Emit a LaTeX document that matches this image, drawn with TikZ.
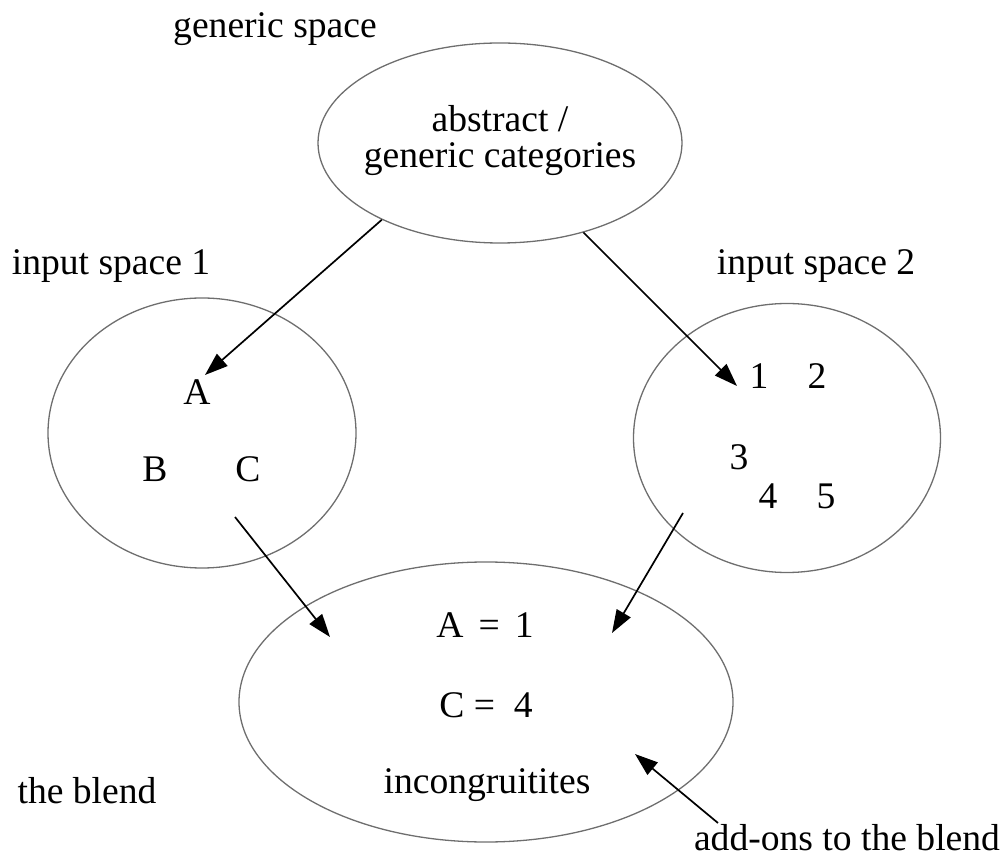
\documentclass[tikz,border=0pt]{standalone}
\usepackage{fontspec}
\setmainfont{Liberation Serif}
\usetikzlibrary{arrows.meta, shapes.geometric}
\definecolor{sgray}{RGB}{110, 110, 110}

\begin{document}
\begin{tikzpicture}[
      x=0.5pt, y=-0.5pt,
      space/.style={draw=sgray, line width=0.65pt, ellipse, inner sep=0pt},
      txt/.style={anchor=base, inner sep=0pt, font=\fontsize{18.8}{22}\selectfont},
      arr/.style={-{Triangle[length=11.5pt, width=8pt]}, line width=0.85pt},
    ]
      \useasboundingbox (0,0) rectangle (1006,860);
      % the four spaces
      \node[space, minimum width=182pt, minimum height=100pt] (gen)   at (500,143) {};
      \node[space, minimum width=154pt, minimum height=135pt] (inone) at (202,433) {};
      \node[space, minimum width=153.5pt, minimum height=134.5pt] (intwo) at (787,438) {};
      \node[space, minimum width=247pt, minimum height=140pt] (blend) at (486,702) {};
      % labels
      \node[txt] (genlbl)   at (275,38)  {generic space};
      \node[txt] (onelbl)   at (111,275) {input space 1};
      \node[txt] (twolbl)   at (816,275) {input space 2};
      \node[txt] (blendlbl) at (87,803)  {the blend};
      \node[txt] (addons)   at (847,850) {add-ons to the blend};
      % contents
      \node[txt] (absa) at (500,132) {abstract /};
      \node[txt] (absb) at (500,168) {generic categories};
      \node[txt] (ea) at (197,405) {A};
      \node[txt] (eb) at (155,482) {B};
      \node[txt] (ec) at (248,482) {C};
      \node[txt] (n1) at (759,389) {1};
      \node[txt] (n2) at (817,389) {2};
      \node[txt] (n3) at (739,470) {3};
      \node[txt] (n4) at (768,509) {4};
      \node[txt] (n5) at (826,509) {5};
      \node[txt] (bla) at (485,637) {A\hspace{0.4em}=\hspace{0.4em}1};
      \node[txt] (blc) at (486,717) {C\hspace{0.25em}=\hspace{0.5em}4};
      \node[txt] (bli) at (487,793) {incongruitites};
      % arrow ends
      \coordinate (tipa)  at (205,375);
      \coordinate (tip1)  at (737,386);
      \coordinate (fromc) at (235,517);
      \coordinate (tipl)  at (330,637);
      \coordinate (from4) at (683,513);
      \coordinate (tipr)  at (612,633);
      \coordinate (fromadd) at (718,823);
      \coordinate (tipadd)  at (635,754);
      \draw[arr] (gen.213) -- (tipa);
      \draw[arr] (gen.-47) -- (tip1);
      \draw[arr] (fromc)   -- (tipl);
      \draw[arr] (from4)   -- (tipr);
      \draw[arr] (fromadd) -- (tipadd);
    \end{tikzpicture}
\end{document}
